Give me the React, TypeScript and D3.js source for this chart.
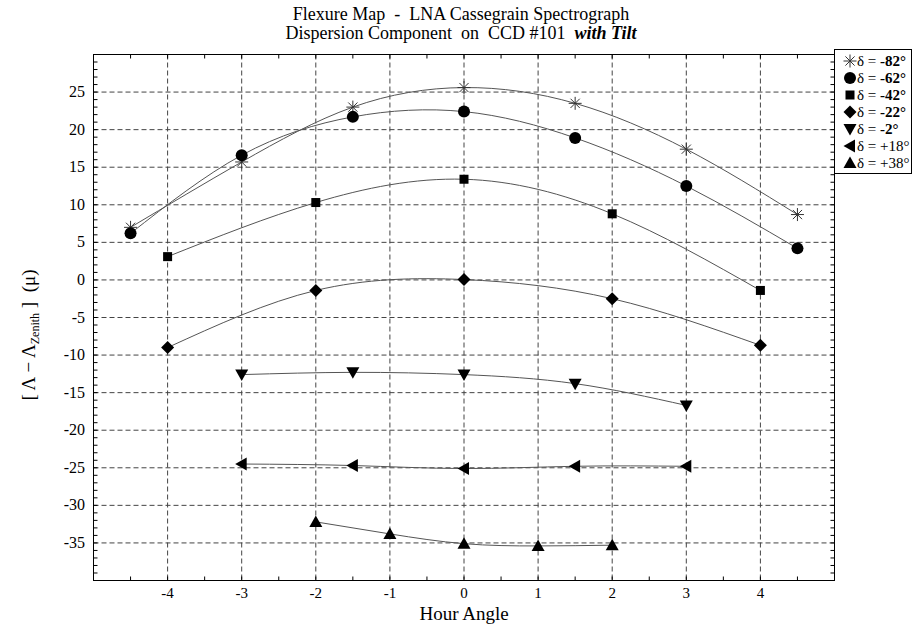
import React from "react";
import * as d3 from "d3";

// ---------- data ----------
const xTickValues = [-4, -3, -2, -1, 0, 1, 2, 3, 4];
const yTickValues = [-35, -30, -25, -20, -15, -10, -5, 0, 5, 10, 15, 20, 25];

const hourM82 = [-4.5, -3, -1.5, 0, 1.5, 3, 4.5];
const valsM82 = [7.0, 15.7, 23.0, 25.6, 23.5, 17.4, 8.7];
const hourM62 = [-4.5, -3, -1.5, 0, 1.5, 3, 4.5];
const valsM62 = [6.2, 16.6, 21.7, 22.4, 18.9, 12.5, 4.2];
const hourM42 = [-4, -2, 0, 2, 4];
const valsM42 = [3.1, 10.3, 13.4, 8.8, -1.4];
const hourM22 = [-4, -2, 0, 2, 4];
const valsM22 = [-9.0, -1.4, 0.05, -2.5, -8.7];
const hourM2 = [-3, -1.5, 0, 1.5, 3];
const valsM2 = [-12.6, -12.3, -12.6, -13.8, -16.7];
const hourP18 = [-3, -1.5, 0, 1.5, 3];
const valsP18 = [-24.5, -24.7, -25.1, -24.8, -24.8];
const hourP38 = [-2, -1, 0, 1, 2];
const valsP38 = [-32.2, -33.8, -35.1, -35.4, -35.3];

const seriesNames = ["-82°", "-62°", "-42°", "-22°", "-2°", "+18°", "+38°"];
const seriesMarkers = ["star", "circle", "square", "diamond", "down", "left", "up"];
const seriesHours = [hourM82, hourM62, hourM42, hourM22, hourM2, hourP18, hourP38];
const seriesVals = [valsM82, valsM62, valsM42, valsM22, valsM2, valsP18, valsP38];

// ---------- layout ----------
const W = 912;
const H = 627;
const PL = 93.5;
const PR = 834.5;
const PT = 54.5;
const PB = 580.5;
const FONT = "'Liberation Serif', 'Times New Roman', Times, serif";

function Marker({ kind, x, y }: { kind: string; x: number; y: number }) {
  const t = `translate(${x},${y})`;
  switch (kind) {
    case "circle":
      return <circle cx={x} cy={y} r={6} fill="#000" />;
    case "square":
      return <rect x={x - 4.5} y={y - 4.5} width={9} height={9} fill="#000" />;
    case "diamond":
      return <path transform={t} d="M0,-6.5L6.5,0L0,6.5L-6.5,0Z" fill="#000" />;
    case "down":
      return <path transform={t} d="M-6.5,-5L6.5,-5L0,6.5Z" fill="#000" />;
    case "left":
      return <path transform={t} d="M5,-6.5L5,6.5L-6.5,0Z" fill="#000" />;
    case "up":
      return <path transform={t} d="M-6.5,5L6.5,5L0,-6.5Z" fill="#000" />;
    case "star":
    default: {
      const r = 6.5;
      const d = r * Math.SQRT1_2;
      return (
        <path
          transform={t}
          d={`M0,${-r}L0,${r}M${-r},0L${r},0M${-d},${-d}L${d},${d}M${-d},${d}L${d},${-d}`}
          stroke="#333"
          strokeWidth={1}
          fill="none"
        />
      );
    }
  }
}

export default function App() {
  const x = d3.scaleLinear().domain([-5, 5]).range([PL, PR]);
  const y = d3.scaleLinear().domain([-40, 30]).range([PB, PT]);

  const line = d3
    .line<[number, number]>()
    .x((d) => x(d[0]))
    .y((d) => y(d[1]))
    .curve(d3.curveNatural);

  const minorX = d3.range(-4.5, 5, 0.5);
  const minorY = d3.range(-39, 30, 1);
  const txt = { fontFamily: FONT, whiteSpace: "pre" as const };

  return (
    <svg
      width={W}
      height={H}
      style={{ position: "absolute", left: 0, top: 0, display: "block", background: "#fff", fontFamily: FONT }}
    >
      <rect x={0} y={0} width={W} height={H} fill="#fff" />

      {/* title */}
      <text x={461} y={20} textAnchor="middle" fontSize={18} style={txt}>
        {"Flexure Map  -  LNA Cassegrain Spectrograph"}
      </text>
      <text x={461} y={39} textAnchor="middle" fontSize={18} style={txt}>
        {"Dispersion Component  on  CCD #101  "}
        <tspan fontWeight="bold" fontStyle="italic">with Tilt</tspan>
      </text>

      {/* grid */}
      {xTickValues.map((v) => (
        <line key={"gx" + v} x1={x(v)} x2={x(v)} y1={PT} y2={PB} stroke="#444" strokeDasharray="5,3" strokeWidth={1} />
      ))}
      {yTickValues.map((v) => (
        <line key={"gy" + v} x1={PL} x2={PR} y1={y(v)} y2={y(v)} stroke="#444" strokeDasharray="5,3" strokeWidth={1} />
      ))}

      {/* minor ticks */}
      {minorX.map((v) => (
        <g key={"mx" + v}>
          <line x1={x(v)} x2={x(v)} y1={PB} y2={PB - 4} stroke="#000" />
          <line x1={x(v)} x2={x(v)} y1={PT} y2={PT + 4} stroke="#000" />
        </g>
      ))}
      {minorY.map((v) => (
        <g key={"my" + v}>
          <line x1={PL} x2={PL + 4} y1={y(v)} y2={y(v)} stroke="#000" />
          <line x1={PR} x2={PR - 4} y1={y(v)} y2={y(v)} stroke="#000" />
        </g>
      ))}

      {/* frame */}
      <rect x={PL} y={PT} width={PR - PL} height={PB - PT} fill="none" stroke="#000" strokeWidth={1} />

      {/* tick labels */}
      {xTickValues.map((v) => (
        <text key={"tx" + v} x={x(v)} y={598} textAnchor="middle" fontSize={15} style={txt}>
          {String(v)}
        </text>
      ))}
      {yTickValues.map((v) => (
        <text key={"ty" + v} x={85} y={y(v) + 5} textAnchor="end" fontSize={16} style={txt}>
          {String(v)}
        </text>
      ))}

      {/* axis titles */}
      <text x={(PL + PR) / 2} y={620} textAnchor="middle" fontSize={19} style={txt}>
        Hour Angle
      </text>
      <text transform={`translate(35,${335}) rotate(-90)`} textAnchor="middle" fontSize={19} style={txt}>
        {"[ Λ − Λ"}
        <tspan fontSize={12} dy={4}>Zenith</tspan>
        <tspan dy={-4}>{" ]  (μ)"}</tspan>
      </text>

      {/* series */}
      {seriesVals.map((vals, i) => {
        const pts: [number, number][] = vals.map((v, j) => [seriesHours[i][j], v]);
        return (
          <g key={"s" + i}>
            <path d={line(pts) || ""} fill="none" stroke="#555" strokeWidth={1} />
            {pts.map((p, j) => (
              <Marker key={j} kind={seriesMarkers[i]} x={x(p[0])} y={y(p[1])} />
            ))}
          </g>
        );
      })}

      {/* legend */}
      <rect x={PR} y={49.5} width={77} height={124} fill="#fff" stroke="#000" strokeWidth={1} />
      {seriesNames.map((name, i) => {
        const ly = 61 + i * 17;
        return (
          <g key={"lg" + i}>
            <Marker kind={seriesMarkers[i]} x={850} y={ly} />
            <text x={857} y={ly + 5} fontSize={15} style={txt}>
              {"δ = "}
              <tspan fontWeight={name.startsWith("-") ? "bold" : "normal"}>{name}</tspan>
            </text>
          </g>
        );
      })}
    </svg>
  );
}
